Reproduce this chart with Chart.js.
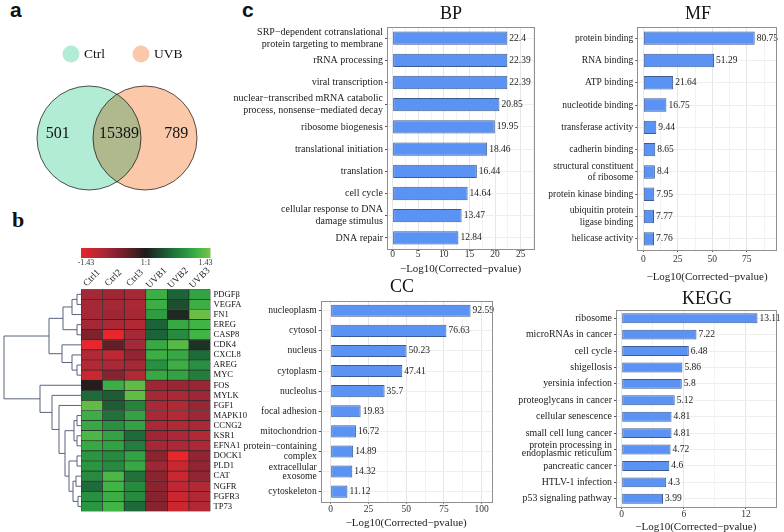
<!DOCTYPE html>
<html>
<head>
<meta charset="utf-8">
<script src="https://cdn.jsdelivr.net/npm/chart.js@4.4.0/dist/chart.umd.min.js"></script>
<style>
    body { margin: 0; background: #fff; overflow: hidden; }
    #page { position: relative; width: 784px; height: 532px; }
    canvas { position: absolute; }
    .tag { position: absolute; color: #111; }
</style>
</head>
<body>
<div id="page">
    <div class="tag" style="left:10px;top:-1px;font:bold 21px/21px 'Liberation Sans';">a</div>
    <div class="tag" style="left:12px;top:209px;font:bold 22px/22px 'Liberation Serif';">b</div>
    <div class="tag" style="left:242px;top:-1px;font:bold 21px/21px 'Liberation Sans';">c</div>
    <canvas id="venn" width="234" height="210" style="left:0;top:0"></canvas>
    <canvas id="heat" width="262" height="280" style="left:0;top:240px"></canvas>
    <canvas id="bp" width="311" height="276" style="left:226px;top:0"></canvas>
    <canvas id="mf" width="239" height="284" style="left:545px;top:0"></canvas>
    <canvas id="cc" width="264" height="255" style="left:236px;top:275px"></canvas>
    <canvas id="kegg" width="272" height="244" style="left:512px;top:290px"></canvas>
</div>
<script>
// ---- data ----
const vennSets = ["Ctrl", "UVB"];
const vennCounts = [501, 15389, 789]; // ctrl only, both, uvb only

const genes = ["PDGFβ", "VEGFA", "FN1", "EREG", "CASP8", "CDK4", "CXCL8", "AREG", "MYC", "FOS", "MYLK",
    "FGF1", "MAPK10", "CCNG2", "KSR1", "EFNA1", "DOCK1", "PLD1", "CAT", "NGFR", "FGFR3", "TP73"];
const samples = ["Ctrl1", "Ctrl2", "Ctrl3", "UVB1", "UVB2", "UVB3"];
const ctrl1 = [-0.9, -0.9, -0.9, -0.9, -0.6, -1.43, -1.0, -1.0, -1.2, -0.05, 0.55, 1.3, 1.1, 1.05, 1.2, 1.05, 0.9, 0.9, 0.8, 0.55, 0.85, 0.9];
const ctrl2 = [-0.85, -0.9, -0.85, -0.95, -1.43, -0.4, -1.1, -0.95, -0.65, 1.1, 0.45, 0.45, 0.6, 0.85, 1.0, 1.0, 0.8, 0.8, 1.2, 1.15, 1.1, 1.15];
const ctrl3 = [-0.9, -0.95, -0.9, -1.0, -0.9, -0.9, -0.75, -0.9, -1.0, 1.3, 1.3, 0.75, 1.0, 1.0, 0.55, 0.7, 1.0, 1.05, 0.6, 0.8, 0.8, 0.55];
const uvb1 = [1.1, 1.1, 0.95, 0.5, 0.5, 1.05, 1.1, 0.85, 1.05, -0.85, -0.9, -0.95, -0.95, -0.95, -0.85, -0.9, -0.7, -0.85, -0.7, -0.7, -0.65, -0.65];
const uvb2 = [0.5, 0.35, 0.1, 1.05, 0.8, 1.25, 1.05, 1.1, 1.0, -0.8, -0.95, -1.0, -1.05, -1.0, -0.95, -0.95, -1.43, -1.2, -1.2, -1.1, -1.2, -1.2];
const uvb3 = [1.0, 1.1, 1.35, 1.15, 1.15, 0.15, 0.55, 0.85, 0.7, -0.8, -0.85, -0.8, -0.85, -0.95, -1.0, -0.95, -0.75, -0.75, -0.75, -1.0, -1.0, -1.0];
const scaleLabels = ["-1.43", "1:1", "1.43"];
// row clustering: [height, left, right], leaves are row indexes
const geneTree = [77,
    [32, [18, [9, [4, 0, 1], 2], [4, 3, 4]], [19, 5, [9, 6, [4, 7, 8]]]],
    [41, 9, [29, 10, [22, 11, [16, [7, [4, 12, 13], [4, 14, 15]], [12, [4, 16, 17], [8, [5, 18, 19], [3, 20, 21]]]]]]]];

const bpTerms = [["SRP−dependent cotranslational", "protein targeting to membrane"], "rRNA processing", "viral transcription",
    ["nuclear−transcribed mRNA catabolic", "process, nonsense−mediated decay"], "ribosome biogenesis", "translational initiation",
    "translation", "cell cycle", ["cellular response to DNA", "damage stimulus"], "DNA repair"];
const bpValues = [22.4, 22.39, 22.39, 20.85, 19.95, 18.46, 16.44, 14.64, 13.47, 12.84];
const bpTicks = [0, 5, 10, 15, 20, 25];

const mfTerms = ["protein binding", "RNA binding", "ATP binding", "nucleotide binding", "transferase activity", "cadherin binding",
    ["structural constituent", "of ribosome"], "protein kinase binding", ["ubiquitin protein", "ligase binding"], "helicase activity"];
const mfValues = [80.75, 51.29, 21.64, 16.75, 9.44, 8.65, 8.4, 7.95, 7.77, 7.76];
const mfTicks = [0, 25, 50, 75];

const ccTerms = ["nucleoplasm", "cytosol", "nucleus", "cytoplasm", "nucleolus", "focal adhesion", "mitochondrion",
    ["protein−containing", "complex"], ["extracellular", "exosome"], "cytoskeleton"];
const ccValues = [92.59, 76.63, 50.23, 47.41, 35.7, 19.83, 16.72, 14.89, 14.32, 11.12];
const ccTicks = [0, 25, 50, 75, 100];

const keggTerms = ["ribosome", "microRNAs in cancer", "cell cycle", "shigellosis", "yersinia infection", "proteoglycans in cancer",
    "cellular senescence", "small cell lung cancer", ["protein processing in", "endoplasmic reticulum"], "pancreatic cancer",
    "HTLV-1 infection", "p53 signaling pathway"];
const keggValues = [13.11, 7.22, 6.48, 5.86, 5.8, 5.12, 4.81, 4.81, 4.72, 4.6, 4.3, 3.99];
const keggTicks = [0, 6, 12];

// ---- styles ----
const SERIF = "'Liberation Serif', 'Times New Roman', serif";
Chart.defaults.font.family = SERIF;
Chart.defaults.color = "#222";

const heatStops = [
    [-1.43, [232, 38, 44]], [-0.9, [165, 40, 55]], [-0.5, [115, 32, 40]], [0, [30, 28, 28]],
    [0.5, [28, 100, 55]], [0.9, [42, 150, 65]], [1.15, [65, 180, 70]], [1.43, [125, 195, 70]]
];

function heatColor(v) {
    for (let i = 1; i < heatStops.length; i++) {
        const [v1, c1] = heatStops[i];
        const [v0, c0] = heatStops[i - 1];
        if (v <= v1 || i === heatStops.length - 1) {
            const t = Math.max(0, Math.min(1, (v - v0) / (v1 - v0)));
            const c = c0.map((x, k) => Math.round(x + (c1[k] - x) * t));
            return `rgb(${c[0]},${c[1]},${c[2]})`;
        }
    }
}

// ---- venn ----
const VENN_R = 52;
const vennPlugin = {
    id: "vennPlugin",
    beforeDatasetsDraw(chart) {
        chart.ctx.save();
        chart.ctx.globalCompositeOperation = "multiply";
    },
    afterDatasetsDraw(chart) {
        const ctx = chart.ctx;
        ctx.restore();
        const xs = chart.scales.x;
        const ys = chart.scales.y;
        const cx1 = xs.getPixelForValue(-1);
        const cx2 = xs.getPixelForValue(1);
        const cy = ys.getPixelForValue(0) - 4;
        ctx.save();
        ctx.font = "16px " + SERIF;
        ctx.fillStyle = "#111";
        ctx.textAlign = "center";
        ctx.textBaseline = "middle";
        ctx.fillText(vennCounts[0], cx1 - VENN_R * 0.6, cy);
        ctx.fillText(vennCounts[1], (cx1 + cx2) / 2 + 2, cy);
        ctx.fillText(vennCounts[2], cx2 + VENN_R * 0.6, cy);

        // legend
        const colors = chart.data.datasets[0].backgroundColor;
        const legendX = [71, 141];
        ctx.font = "13.5px " + SERIF;
        ctx.textAlign = "left";
        vennSets.forEach((name, i) => {
            ctx.beginPath();
            ctx.fillStyle = colors[i];
            ctx.arc(legendX[i], 54, 8.5, 0, Math.PI * 2);
            ctx.fill();
            ctx.fillStyle = "#111";
            ctx.fillText(name, legendX[i] + 13, 54);
        });
        ctx.restore();
    }
};

new Chart(document.getElementById("venn"), {
    type: "bubble",
    data: {
        datasets: [{
            data: [{ x: -1, y: 0, r: VENN_R }, { x: 1, y: 0, r: VENN_R }],
            backgroundColor: ["#b2ecd4", "#fcc8aa"],
            borderColor: "#555",
            borderWidth: 1,
            clip: false
        }]
    },
    options: {
        responsive: false,
        animation: false,
        layout: { padding: { top: 66 }, autoPadding: false },
        plugins: { legend: { display: false }, tooltip: { enabled: false } },
        scales: {
            x: { display: false, min: -4.18, max: 4.18 },
            y: { display: false, min: -1, max: 1 }
        }
    },
    plugins: [vennPlugin]
});

// ---- heatmap ----
const heatValues = [ctrl1, ctrl2, ctrl3, uvb1, uvb2, uvb3];

const heatDecor = {
    id: "heatDecor",
    afterDraw(chart) {
        const ctx = chart.ctx;
        const area = chart.chartArea;
        const ys = chart.scales.y;
        const xs = chart.scales.x;
        ctx.save();

        // dendrogram
        ctx.strokeStyle = "#58627c";
        ctx.lineWidth = 1;
        function walk(node) {
            if (typeof node === "number") return { x: area.left, y: ys.getPixelForValue(node) };
            const x = area.left - node[0];
            const p = walk(node[1]);
            const q = walk(node[2]);
            ctx.beginPath();
            ctx.moveTo(p.x, p.y);
            ctx.lineTo(x, p.y);
            ctx.lineTo(x, q.y);
            ctx.lineTo(q.x, q.y);
            ctx.stroke();
            return { x, y: (p.y + q.y) / 2 };
        }
        walk(geneTree);

        // colour key
        const grad = ctx.createLinearGradient(area.left, 0, area.right, 0);
        heatStops.forEach(([v, c]) => grad.addColorStop((v + 1.43) / 2.86, `rgb(${c[0]},${c[1]},${c[2]})`));
        ctx.fillStyle = grad;
        ctx.fillRect(area.left, 8, area.right - area.left, 10);
        ctx.font = "8px " + SERIF;
        ctx.fillStyle = "#333";
        ctx.textAlign = "center";
        ctx.textBaseline = "middle";
        const keyX = [area.left + 5, (area.left + area.right) / 2, area.right - 5];
        scaleLabels.forEach((t, i) => ctx.fillText(t, keyX[i], 23));

        // sample labels
        ctx.font = "9.5px " + SERIF;
        ctx.fillStyle = "#222";
        samples.forEach((s, i) => {
            ctx.save();
            ctx.translate(xs.getPixelForValue(i + 0.5), 38);
            ctx.rotate(-Math.PI / 4);
            ctx.fillText(s, 0, 0);
            ctx.restore();
        });
        ctx.restore();
    }
};

new Chart(document.getElementById("heat"), {
    type: "bar",
    data: {
        labels: genes,
        datasets: heatValues.map((vals, j) => ({
            label: samples[j],
            data: genes.map(() => 1),
            backgroundColor: vals.map(heatColor),
            borderColor: "#2b2b2b",
            borderWidth: 0.7,
            borderSkipped: false,
            barPercentage: 1,
            categoryPercentage: 1
        }))
    },
    options: {
        indexAxis: "y",
        responsive: false,
        animation: false,
        layout: { padding: { left: 81, top: 49.3, bottom: 8.5, right: 0 } },
        plugins: { legend: { display: false }, tooltip: { enabled: false } },
        scales: {
            x: { display: false, stacked: true, min: 0, max: 6 },
            y: {
                stacked: true,
                position: "right",
                grid: { display: false, drawTicks: false },
                border: { display: false },
                ticks: { font: { size: 8.6 }, color: "#111", padding: 3, autoSkip: false },
                afterFit: (s) => { s.width = 51.5; }
            }
        }
    },
    plugins: [heatDecor]
});

// ---- GO / KEGG bar panels ----
const panelBox = {
    id: "panelBox",
    afterDraw(chart) {
        const a = chart.chartArea;
        const ctx = chart.ctx;
        ctx.save();
        ctx.strokeStyle = "#8f8f8f";
        ctx.lineWidth = 1;
        ctx.strokeRect(Math.round(a.left) + 0.5, Math.round(a.top) + 0.5,
            Math.round(a.right - a.left), Math.round(a.bottom - a.top));
        ctx.restore();
    }
};

const barValues = {
    id: "barValues",
    afterDatasetsDraw(chart) {
        const ctx = chart.ctx;
        const values = chart.data.datasets[0].data;
        ctx.save();
        ctx.font = "9.5px " + SERIF;
        ctx.fillStyle = "#222";
        ctx.textBaseline = "middle";
        chart.getDatasetMeta(0).data.forEach((bar, i) => ctx.fillText(String(values[i]), bar.x + 2, bar.y));
        ctx.restore();
    }
};

function panelTitle(text, x, y) {
    return {
        id: "panelTitle",
        afterDraw(chart) {
            const ctx = chart.ctx;
            ctx.save();
            ctx.font = "18px " + SERIF;
            ctx.fillStyle = "#111";
            ctx.textAlign = "center";
            ctx.textBaseline = "middle";
            ctx.fillText(text, x, y);
            ctx.restore();
        }
    };
}

function goChart(id, terms, values, majors, cfg) {
    const step = majors[1] - majors[0];
    const allTicks = [];
    majors.forEach((v) => {
        allTicks.push(v);
        if (v + step / 2 < cfg.max) allTicks.push(v + step / 2);
    });
    const isMajor = (v) => majors.includes(v);

    return new Chart(document.getElementById(id), {
        type: "bar",
        data: {
            labels: terms,
            datasets: [{
                data: values,
                backgroundColor: "#5b93f4",
                borderColor: "#3d5b91",
                borderWidth: 1,
                borderSkipped: false,
                barPercentage: 0.6,
                categoryPercentage: 1
            }]
        },
        options: {
            indexAxis: "y",
            responsive: false,
            animation: false,
            layout: { padding: { top: cfg.top, right: cfg.right, bottom: 0, left: 0 } },
            plugins: { legend: { display: false }, tooltip: { enabled: false } },
            scales: {
                x: {
                    min: cfg.min,
                    max: cfg.max,
                    afterBuildTicks: (s) => { s.ticks = allTicks.map((v) => ({ value: v })); },
                    afterFit: (s) => { s.height = cfg.xHeight; },
                    ticks: {
                        autoSkip: false, maxRotation: 0, padding: cfg.tickPad, color: "#333",
                        font: { size: 9.5 },
                        callback: (v) => isMajor(v) ? v : ""
                    },
                    grid: {
                        color: (c) => isMajor(c.tick.value) ? "#e6e6e6" : "#f3f3f3",
                        tickColor: (c) => isMajor(c.tick.value) ? "#555" : "rgba(0,0,0,0)",
                        tickLength: 2
                    },
                    border: { display: false },
                    title: {
                        display: true, text: "−Log10(Corrected−pvalue)", color: "#222",
                        font: { size: 11 }, padding: { top: 0, bottom: 0 }
                    }
                },
                y: {
                    afterFit: (s) => { s.width = cfg.yWidth; },
                    ticks: { autoSkip: false, padding: 2, color: "#1a1a1a", font: { size: cfg.labelSize, lineHeight: cfg.lineHeight } },
                    grid: { offset: false, color: "#eeeeee", tickColor: "#555", tickLength: 2 },
                    border: { display: false }
                }
            }
        },
        plugins: [panelBox, barValues, panelTitle(cfg.title, cfg.titleX, cfg.titleY)]
    });
}

goChart("bp", bpTerms, bpValues, bpTicks, {
    min: -1.1, max: 27.6, top: 27, right: 3, yWidth: 161, xHeight: 27, tickPad: -2.5,
    labelSize: 10, lineHeight: 1.23, title: "BP", titleX: 225, titleY: 14
});
goChart("mf", mfTerms, mfValues, mfTicks, {
    min: -4.35, max: 96.7, top: 27, right: 7.3, yWidth: 92.3, xHeight: 34, tickPad: 1.3,
    labelSize: 9.5, lineHeight: 1.2, title: "MF", titleX: 153, titleY: 14
});
goChart("cc", ccTerms, ccValues, ccTicks, {
    min: -6.6, max: 106.6, top: 25.7, right: 8.3, yWidth: 84.7, xHeight: 28.3, tickPad: 0,
    labelSize: 9.6, lineHeight: 0.95, title: "CC", titleX: 166, titleY: 12.5
});
goChart("kegg", keggTerms, keggValues, keggTicks, {
    min: -0.55, max: 14.87, top: 20, right: 8.3, yWidth: 104, xHeight: 27, tickPad: 0,
    labelSize: 9.9, lineHeight: 0.8, title: "KEGG", titleX: 195, titleY: 9
});
</script>
</body>
</html>
